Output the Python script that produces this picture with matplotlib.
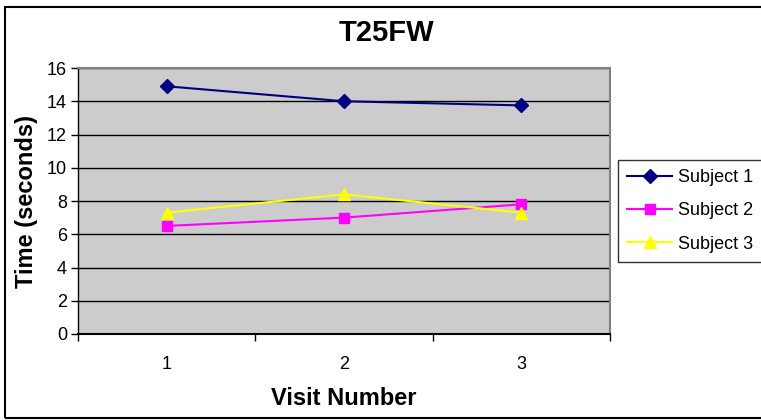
import matplotlib.pyplot as plt
from matplotlib.patches import Rectangle

plt.rcParams['font.family'] = ['Liberation Sans', 'DejaVu Sans']

visits = [1, 2, 3]
subject1 = [14.9, 14.0, 13.75]
subject2 = [6.5, 7.0, 7.8]
subject3 = [7.3, 8.4, 7.3]
series_names = ["Subject 1", "Subject 2", "Subject 3"]

fig = plt.figure(figsize=(7.61, 4.20), dpi=100)

# outer chart frame, runs off the right edge
fig.patches.append(Rectangle((5 / 761, 2 / 420), 1.0, 411 / 420, transform=fig.transFigure,
                             fill=False, edgecolor="black", linewidth=1.5, clip_on=False))

ax = fig.add_axes([78 / 761, 86 / 420, 532 / 761, 266 / 420])
ax.set_facecolor("#CCCCCC")

ax.plot(visits, subject1, color="#000080", marker="D", markersize=7, linewidth=1.5,
        label=series_names[0], zorder=3)
ax.plot(visits, subject2, color="#FF00FF", marker="s", markersize=7, linewidth=1.5,
        label=series_names[1], zorder=3)
ax.plot(visits, subject3, color="#FFFF00", marker="^", markersize=8, linewidth=1.5,
        label=series_names[2], zorder=3)

ax.set_xlim(0.5, 3.5)
ax.set_ylim(0, 16)
ax.set_yticks(range(0, 17, 2))
ax.yaxis.grid(True, color="black", linewidth=1)
ax.set_axisbelow(True)

ax.set_xticks(visits)
ax.set_xticks([0.5, 1.5, 2.5, 3.5], minor=True)
ax.tick_params(axis="x", which="major", length=0, pad=16, labelsize=13)
ax.tick_params(axis="x", which="minor", length=5, direction="out", width=1)
ax.tick_params(axis="y", length=5, direction="out", width=1, labelsize=13, pad=3)

ax.spines["top"].set_color("#808080")
ax.spines["right"].set_color("#808080")
ax.spines["top"].set_linewidth(1.5)
ax.spines["right"].set_linewidth(1.5)
ax.spines["left"].set_linewidth(1)
ax.spines["bottom"].set_linewidth(1.5)

# title sits over the centre of the whole chart, not the plot area
fig.text(386 / 761, 1 - 33 / 420, "T25FW", fontsize=21, fontweight="bold",
         ha="center", va="center")
ax.set_xlabel("Visit Number", fontsize=17, fontweight="bold", labelpad=10)
ax.set_ylabel("Time (seconds)", fontsize=17, fontweight="bold", labelpad=6)

leg = ax.legend(loc="upper left", bbox_to_anchor=(618 / 761, 1 - 160 / 420),
                bbox_transform=fig.transFigure, fontsize=13, frameon=True,
                fancybox=False, handlelength=2.5, handletextpad=0.35,
                borderpad=0.5, labelspacing=0.9, borderaxespad=0)
leg.get_frame().set_edgecolor("black")
leg.get_frame().set_linewidth(1)

fig.savefig("out.png", dpi=100)
